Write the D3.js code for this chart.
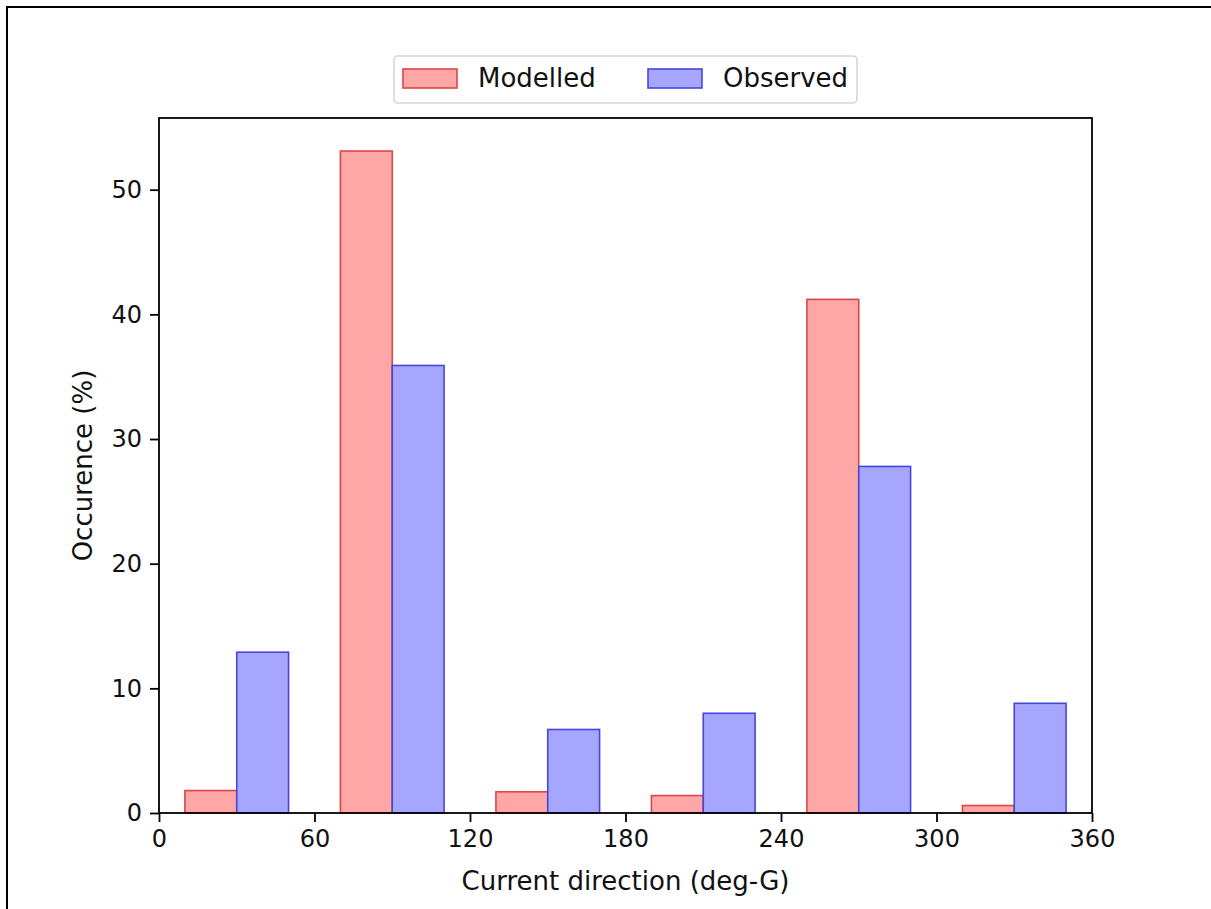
<!DOCTYPE html>
<html lang="en">
<head>
    <meta charset="UTF-8">
    <title>Current direction histogram</title>
    <script src="https://d3js.org/d3.v7.min.js"></script>
    <style>
        body { margin: 0; background: white; }
        svg { display: block; font-family: "DejaVu Sans", sans-serif; }
    </style>
</head>
<body>
    <svg width="1211" height="909" id="chart"></svg>
    <script>
        // histogram bins (deg-G), width 60
        const binStarts = [0, 60, 120, 180, 240, 300];
        const modelled = [1.8, 53.1, 1.7, 1.4, 41.2, 0.6];
        const observed = [12.9, 35.9, 6.7, 8.0, 27.8, 8.8];
        const xTicks = [0, 60, 120, 180, 240, 300, 360];
        const yTicks = [0, 10, 20, 30, 40, 50];

        const svg = d3.select("#chart");
        const margin = { left: 159, right: 1092, top: 118, bottom: 813 };
        const tickFs = 24;
        const labelFs = 26;

        // outer frame
        svg.append("path")
            .attr("d", "M7,909 L7,7 L1211,7")
            .attr("fill", "none")
            .attr("stroke", "black")
            .attr("stroke-width", 2);

        const x = d3.scaleLinear().domain([0, 360]).range([margin.left, margin.right]);
        const y = d3.scaleLinear().domain([0, 55.75]).range([margin.bottom, margin.top]);

        const series = [
            { name: "Modelled", values: modelled, offset: 10, fill: "#ffa6a6", stroke: "#dc4646" },
            { name: "Observed", values: observed, offset: 30, fill: "#a6a6ff", stroke: "#4646dc" }
        ];

        series.forEach(s => {
            svg.append("g").selectAll("rect")
                .data(s.values)
                .join("rect")
                .attr("x", (d, i) => x(binStarts[i] + s.offset))
                .attr("width", x(20) - x(0))
                .attr("y", d => y(d))
                .attr("height", d => y(0) - y(d))
                .attr("fill", s.fill)
                .attr("stroke", s.stroke)
                .attr("stroke-width", 1.6);
        });

        // axes
        const xAxis = svg.append("g")
            .attr("transform", `translate(0,${margin.bottom})`)
            .call(d3.axisBottom(x).tickValues(xTicks).tickSize(9).tickPadding(8).tickSizeOuter(0));
        const yAxis = svg.append("g")
            .attr("transform", `translate(${margin.left},0)`)
            .call(d3.axisLeft(y).tickValues(yTicks).tickSize(9).tickPadding(8).tickSizeOuter(0));

        [xAxis, yAxis].forEach(g => {
            g.select(".domain").remove();
            g.selectAll("line").attr("stroke", "black").attr("stroke-width", 1.8);
            g.selectAll("text").attr("font-size", tickFs).attr("fill", "#111")
                .attr("font-family", "DejaVu Sans");
        });

        // plot frame
        svg.append("rect")
            .attr("x", margin.left)
            .attr("y", margin.top)
            .attr("width", margin.right - margin.left)
            .attr("height", margin.bottom - margin.top)
            .attr("fill", "none")
            .attr("stroke", "black")
            .attr("stroke-width", 1.8);

        // axis labels
        svg.append("text")
            .attr("x", (margin.left + margin.right) / 2)
            .attr("y", 890)
            .attr("text-anchor", "middle")
            .attr("font-size", labelFs)
            .attr("fill", "#111")
            .text("Current direction (deg-G)");

        svg.append("text")
            .attr("transform", `translate(92,${(margin.top + margin.bottom) / 2}) rotate(-90)`)
            .attr("text-anchor", "middle")
            .attr("font-size", labelFs)
            .attr("fill", "#111")
            .text("Occurence (%)");

        // legend
        const legend = svg.append("g");
        legend.append("rect")
            .attr("x", 394).attr("y", 56)
            .attr("width", 463).attr("height", 47)
            .attr("rx", 4)
            .attr("fill", "white")
            .attr("stroke", "#d6d6d6")
            .attr("stroke-width", 1.6);

        const legendX = [403, 648];
        series.forEach((s, i) => {
            legend.append("rect")
                .attr("x", legendX[i]).attr("y", 69)
                .attr("width", 54).attr("height", 19)
                .attr("fill", s.fill)
                .attr("stroke", s.stroke)
                .attr("stroke-width", 1.6);
            legend.append("text")
                .attr("x", legendX[i] + 75)
                .attr("y", 87)
                .attr("font-size", labelFs)
                .attr("fill", "#111")
                .text(s.name);
        });
    </script>
</body>
</html>
